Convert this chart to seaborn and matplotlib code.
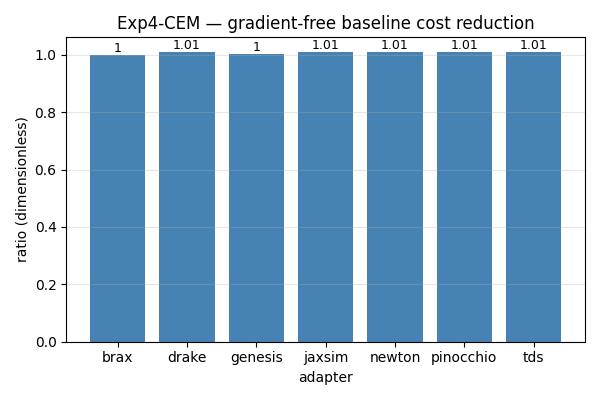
import matplotlib
matplotlib.use("Agg")
import matplotlib.pyplot as plt
import seaborn as sns
import pandas as pd

# cost ratio per adapter
adapters = ["brax", "drake", "genesis", "jaxsim", "newton", "pinocchio", "tds"]
ratios = [1.0, 1.01, 1.003, 1.01, 1.01, 1.01, 1.01]

df = pd.DataFrame({"adapter": adapters, "ratio": ratios})

fig, ax = plt.subplots(figsize=(6, 4), dpi=100)
sns.barplot(data=df, x="adapter", y="ratio", color="steelblue",
            saturation=1, width=0.8, ax=ax)
# seaborn pins the x limits; go back to matplotlib's default margins
ax.autoscale(enable=True, axis="x", tight=False)
ax.bar_label(ax.containers[0], fmt="%.3g", fontsize=9)
ax.grid(axis="y", alpha=0.3)
ax.set_xlabel("adapter")
ax.set_ylabel("ratio (dimensionless)")
ax.set_title("Exp4-CEM — gradient-free baseline cost reduction")
fig.tight_layout()
fig.savefig("out.png")
